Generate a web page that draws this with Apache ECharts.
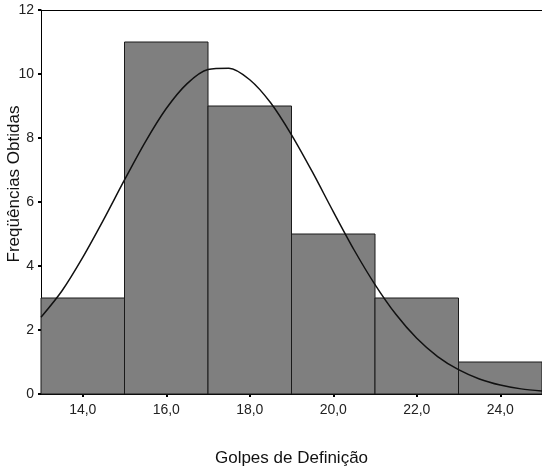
<!DOCTYPE html>
<html><head><meta charset="utf-8">
<script src="https://cdn.jsdelivr.net/npm/echarts@6/dist/echarts.min.js"></script>
<style>html,body{margin:0;padding:0;background:#fff}#c{width:542px;height:471px}</style>
</head><body><div id="c"></div>
<script>
// Histogram bins (start, end) and counts
var binStarts = [13, 15, 17, 19, 21, 23];
var binEnds   = [15, 17, 19, 21, 23, 25];
var counts    = [3, 11, 9, 5, 3, 1];
// Normal curve
var curveX = [13,13.5,14,14.5,15,15.5,16,16.5,17,17.5,18,18.5,19,19.5,20,20.5,21,21.5,22,22.5,23,23.5,24,24.5,25];
var curveY = [2.4,3.22,4.27,5.45,6.69,7.88,8.92,9.70,10.14,10.18,9.82,9.10,8.10,6.94,5.70,4.50,3.42,2.49,1.74,1.17,0.76,0.47,0.28,0.16,0.09];
var xTicks = [14, 16, 18, 20, 22, 24];
var yTicks = [0, 2, 4, 6, 8, 10, 12];
var xTitle = 'Golpes de Definição';
var yTitle = 'Freqüências Obtidas';

var barData = binStarts.map(function(s, i){ return [s, binEnds[i], counts[i]]; });
var lineData = curveX.map(function(x, i){ return [x, curveY[i]]; });

var chart = echarts.init(document.getElementById('c'), null, {renderer:'canvas'});
var font = 'Liberation Sans, Arial, sans-serif';
chart.setOption({
  animation: false,
  grid: {left: 41, right: 0, top: 10, bottom: 77, outerBoundsMode: 'none', containLabel: false},
  graphic: [{
    type: 'text', x: 14, y: 184, rotation: Math.PI / 2,
    style: {text: yTitle, font: '17px ' + font, fill: '#111', textAlign: 'center', textVerticalAlign: 'middle'}
  }],
  xAxis: [{
    type: 'value', min: 13, max: 25,
    name: xTitle, nameLocation: 'middle', nameGap: 56,
    nameTextStyle: {fontFamily: font, fontSize: 17, color: '#111'},
    axisLine: {show: true, lineStyle: {color: '#000', width: 1}},
    axisTick: {show: true, length: 3, customValues: xTicks, lineStyle: {color: '#000', width: 2}},
    axisLabel: {customValues: xTicks, fontFamily: font, fontSize: 14, color: '#222', margin: 9,
      formatter: function(v){ return v.toFixed(1).replace('.', ','); }},
    splitLine: {show: false}
  }, {
    type: 'value', min: 13, max: 25, position: 'top',
    axisLine: {show: true, lineStyle: {color: '#000', width: 1}},
    axisTick: {show: false}, axisLabel: {show: false}, splitLine: {show: false}
  }],
  yAxis: {
    type: 'value', min: 0, max: 12, interval: 2,
    axisLine: {show: true, lineStyle: {color: '#000', width: 1}},
    axisTick: {show: true, length: 3, lineStyle: {color: '#000', width: 2}},
    axisLabel: {fontFamily: font, fontSize: 14, color: '#222', margin: 7},
    splitLine: {show: false}
  },
  series: [{
    type: 'custom',
    data: barData,
    encode: {x: [0, 1], y: 2},
    renderItem: function(params, api){
      var p0 = api.coord([api.value(0), api.value(2)]);
      var p1 = api.coord([api.value(1), 0]);
      return {
        type: 'rect',
        shape: {x: p0[0], y: p0[1], width: p1[0] - p0[0], height: p1[1] - p0[1]},
        style: {fill: '#7f7f7f', stroke: '#1a1a1a', lineWidth: 1}
      };
    },
    z: 1
  }, {
    type: 'line', data: lineData, smooth: 0.3, showSymbol: false,
    lineStyle: {color: '#111', width: 1.5}, z: 3
  }]
});
</script></body></html>
